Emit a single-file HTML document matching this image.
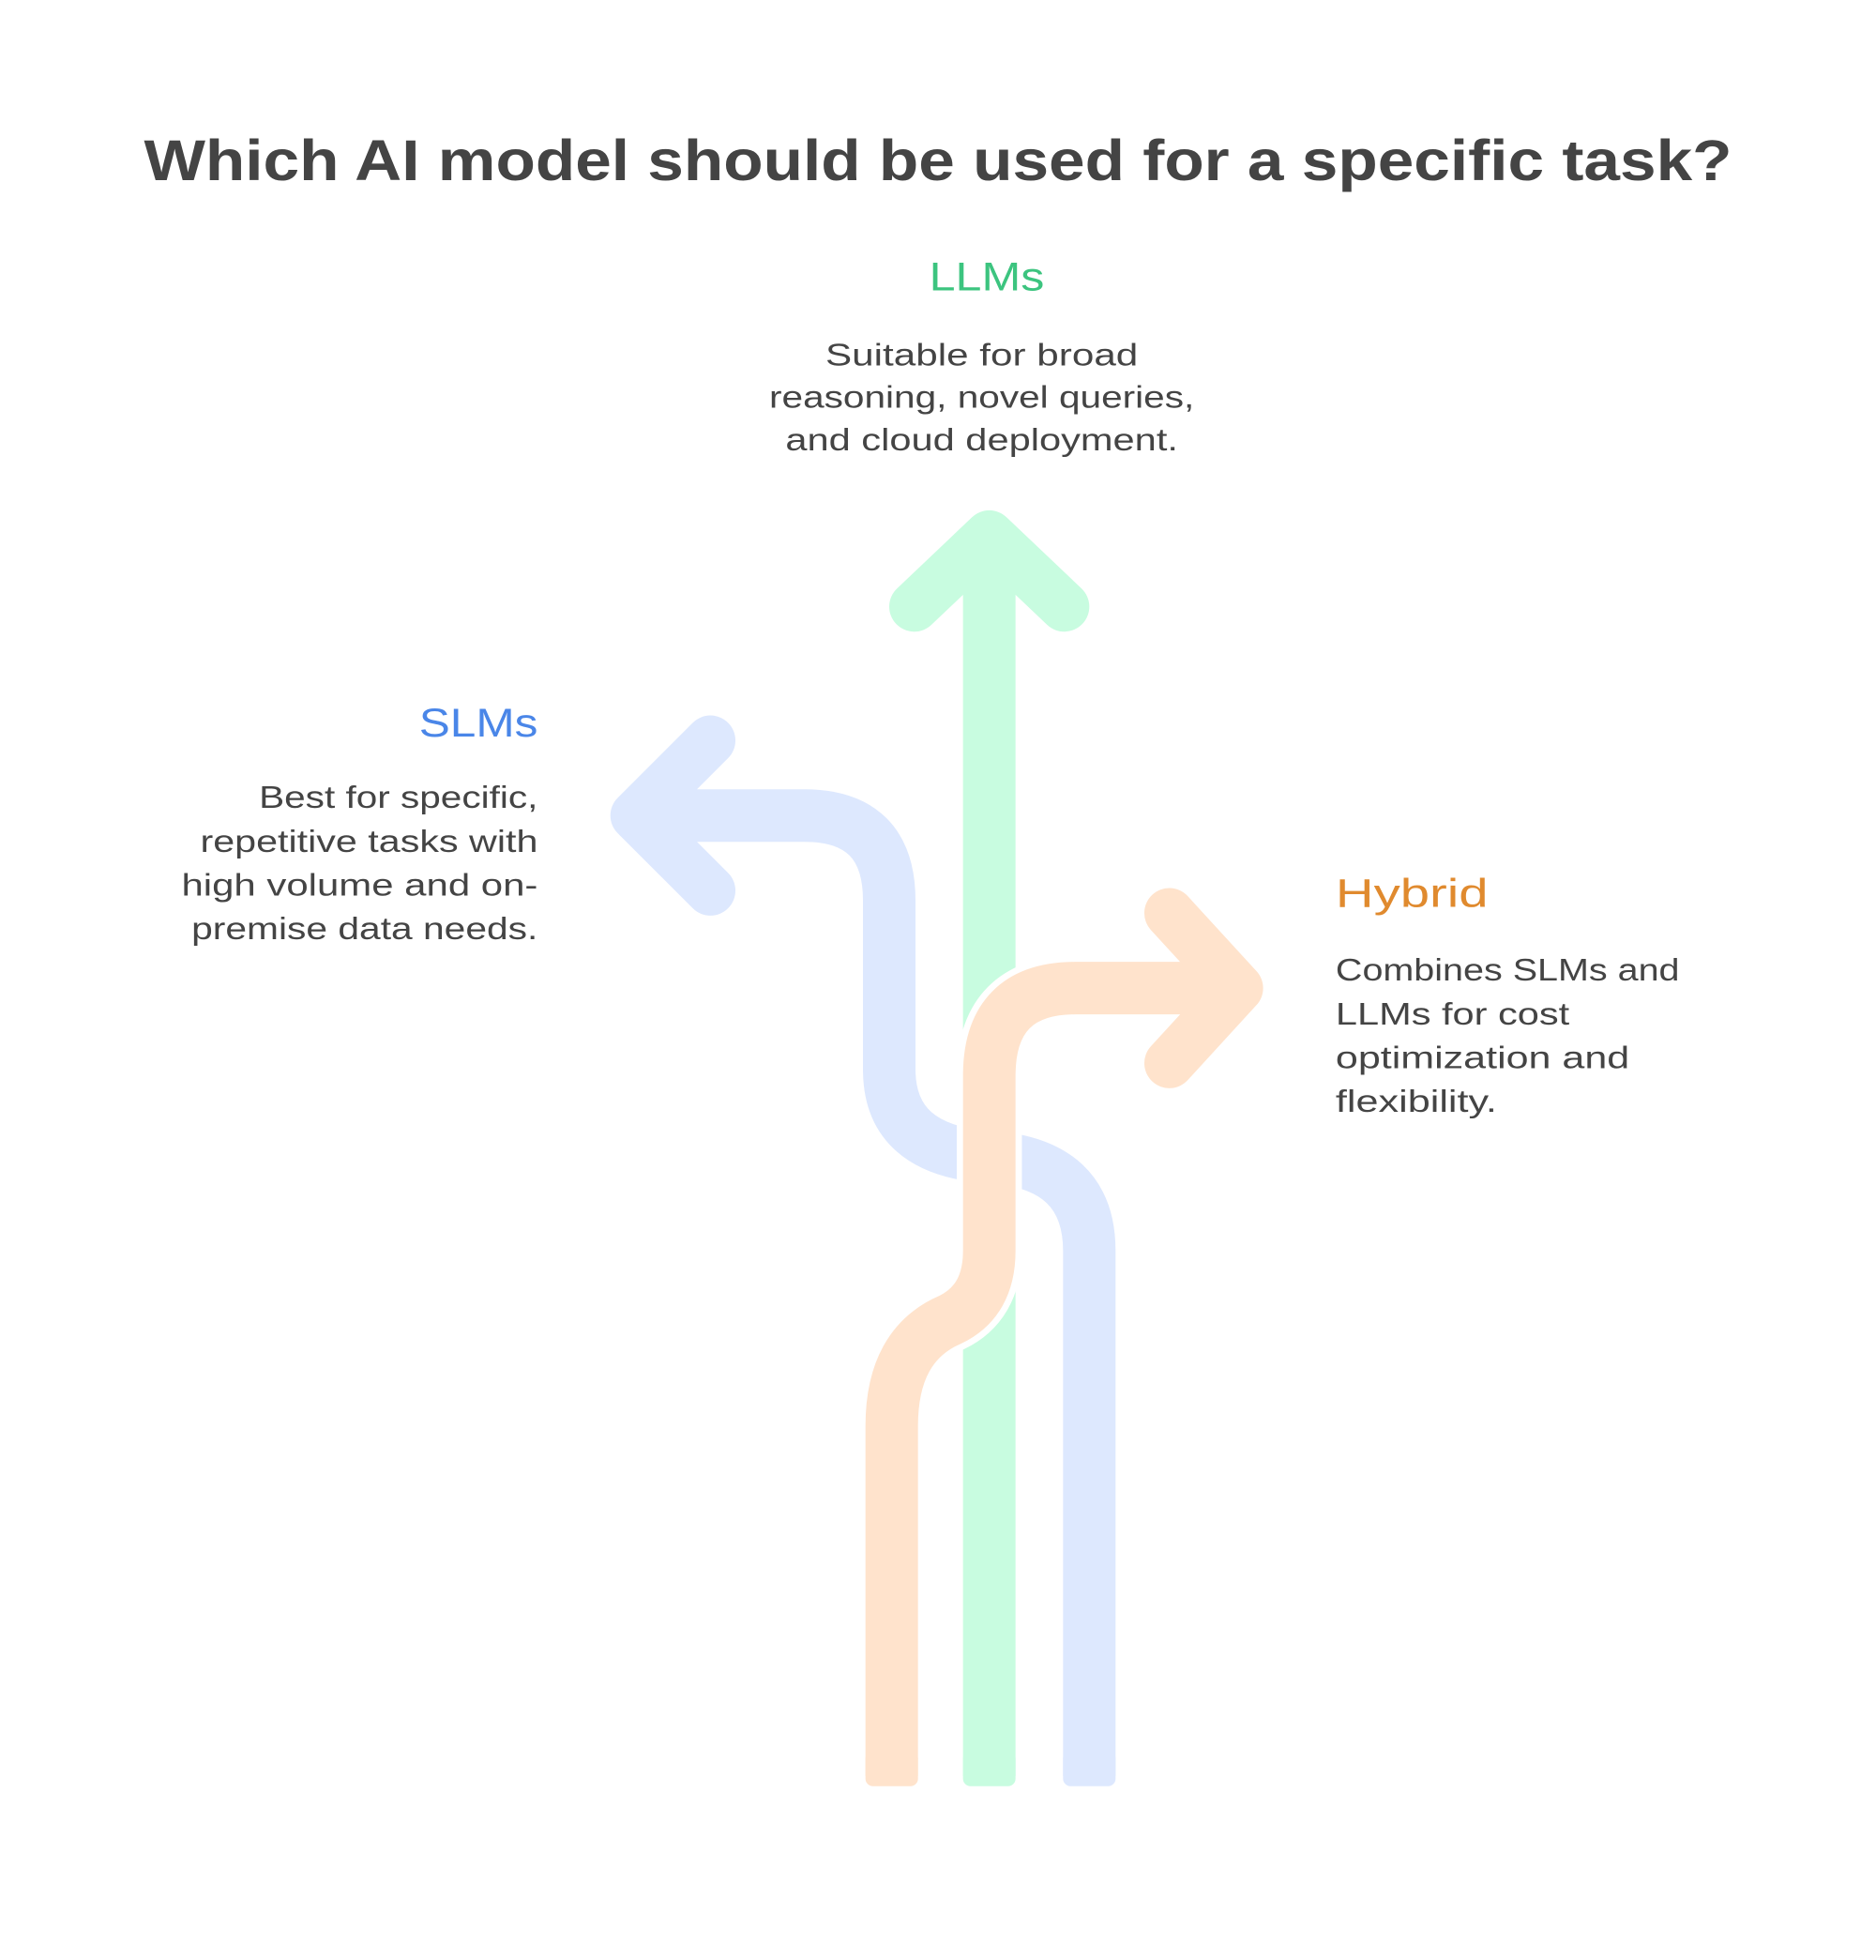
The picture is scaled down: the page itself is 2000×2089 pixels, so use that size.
<!DOCTYPE html>
<html><head><meta charset="utf-8"><style>html,body{margin:0;padding:0;background:#fff}svg{display:block}</style></head>
<body>
<svg width="2000" height="2089" viewBox="0 0 1500 1567" xmlns="http://www.w3.org/2000/svg" font-family="Liberation Sans, sans-serif">
<rect width="1500" height="1567" fill="#fff"/>
<text x="115" y="144" font-size="46" font-weight="bold" fill="#444" textLength="1270" lengthAdjust="spacingAndGlyphs">Which AI model should be used for a specific task?</text>
<g fill="none" stroke-linecap="round" stroke-linejoin="round">
<path d="M871 1420 V1000 Q871 930 791 925 Q711 920 711 855 V720 Q711 652 643 652 H520" stroke="#dde8fe" stroke-width="42" stroke-linecap="butt"/>
<polyline points="568,592 508,652 568,712" stroke="#dde8fe" stroke-width="40"/>
<path d="M791 1420 V480" stroke="#fff" stroke-width="52" stroke-linecap="butt"/>
<path d="M791 1420 V440" stroke="#c8fce0" stroke-width="42" stroke-linecap="butt"/>
<polyline points="731,485 791,428 851,485" stroke="#c8fce0" stroke-width="40"/>
<path d="M713 1420 V1140 Q713 1075 760 1055 Q791 1040 791 1000 V860 Q791 790 860 790 H985" stroke="#fff" stroke-width="52" stroke-linecap="butt"/>
<path d="M713 1420 V1140 Q713 1075 760 1055 Q791 1040 791 1000 V860 Q791 790 860 790 H985" stroke="#ffe3cc" stroke-width="42" stroke-linecap="butt"/>
<polyline points="935,730 990,790 935,850" stroke="#ffe3cc" stroke-width="40"/>
<rect x="692" y="1400" width="42" height="28" rx="6" fill="#ffe3cc" stroke="none"/>
<rect x="770" y="1400" width="42" height="28" rx="6" fill="#c8fce0" stroke="none"/>
<rect x="850" y="1400" width="42" height="28" rx="6" fill="#dde8fe" stroke="none"/>
</g>
<g font-size="25" fill="#444" lengthAdjust="spacingAndGlyphs">
<text x="743" y="232" font-size="32" fill="#3cc47f" textLength="92" lengthAdjust="spacingAndGlyphs">LLMs</text>
<text x="660" y="292" textLength="250" lengthAdjust="spacingAndGlyphs">Suitable for broad</text>
<text x="615" y="326" textLength="340" lengthAdjust="spacingAndGlyphs">reasoning, novel queries,</text>
<text x="628" y="360" textLength="314" lengthAdjust="spacingAndGlyphs">and cloud deployment.</text>
<text x="335" y="589" font-size="32" fill="#4a86e8" textLength="95" lengthAdjust="spacingAndGlyphs">SLMs</text>
<text x="207" y="646" textLength="223" lengthAdjust="spacingAndGlyphs">Best for specific,</text>
<text x="160" y="681" textLength="270" lengthAdjust="spacingAndGlyphs">repetitive tasks with</text>
<text x="145" y="716" textLength="285" lengthAdjust="spacingAndGlyphs">high volume and on-</text>
<text x="153" y="751" textLength="277" lengthAdjust="spacingAndGlyphs">premise data needs.</text>
<text x="1068" y="725" font-size="32" fill="#e08a2e" textLength="122" lengthAdjust="spacingAndGlyphs">Hybrid</text>
<text x="1068" y="784" textLength="275" lengthAdjust="spacingAndGlyphs">Combines SLMs and</text>
<text x="1068" y="819" textLength="187" lengthAdjust="spacingAndGlyphs">LLMs for cost</text>
<text x="1068" y="854" textLength="235" lengthAdjust="spacingAndGlyphs">optimization and</text>
<text x="1068" y="889" textLength="129" lengthAdjust="spacingAndGlyphs">flexibility.</text>
</g>
</svg>
</body></html>
